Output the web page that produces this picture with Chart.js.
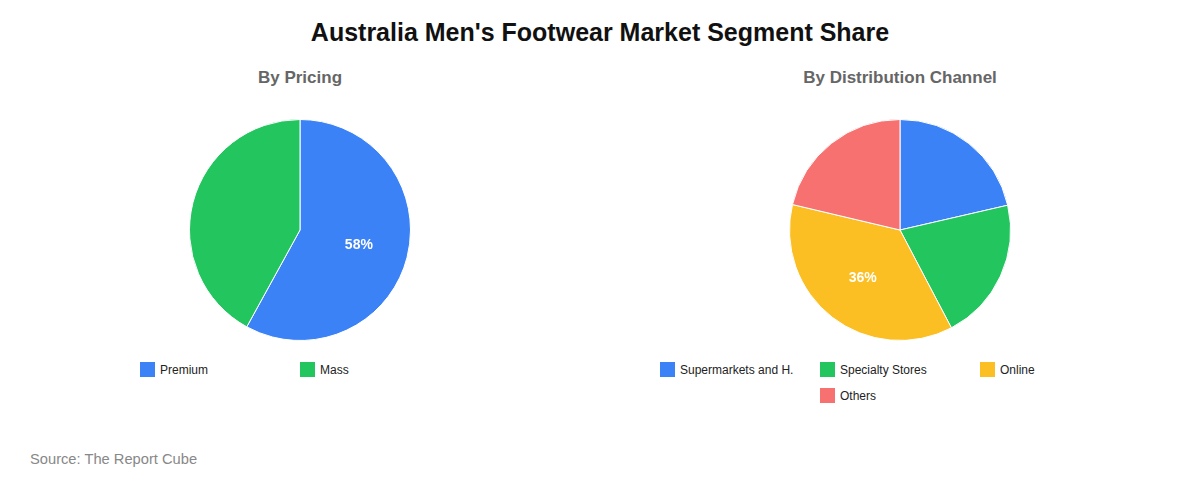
<!DOCTYPE html>
<html>
<head>
<meta charset="utf-8">
<script src="https://cdn.jsdelivr.net/npm/chart.js@4.4.0/dist/chart.umd.min.js"></script>
<style>
  html, body { margin: 0; padding: 0; background: #fff; }
  body { width: 1200px; height: 480px; position: relative; overflow: hidden; font-family: "Liberation Sans", Arial, sans-serif; }
  .main-title { position: absolute; top: 18px; left: 0; width: 1200px; text-align: center; font-size: 25px; font-weight: bold; color: #111; }
  .block { position: absolute; top: 0; width: 600px; height: 440px; }
  .sub-title { position: absolute; top: 68px; left: 0; width: 600px; text-align: center; font-size: 17px; font-weight: bold; color: #666; }
  .pie-wrap { position: absolute; top: 119px; left: 189px; width: 222px; height: 222px; }
  .legend { position: absolute; top: 362px; display: flex; flex-wrap: wrap; justify-content: center; }
  .legend-item { width: 160px; height: 26px; display: flex; align-items: flex-start; font-size: 12px; color: #222; }
  .legend-box { width: 15px; height: 15px; margin-right: 5px; flex: none; }
  .legend-item span { line-height: 16px; white-space: nowrap; }
  .source { position: absolute; left: 30px; top: 451px; font-size: 14.7px; color: #888; }
</style>
</head>
<body>
<div class="main-title">Australia Men's Footwear Market Segment Share</div>

<div class="block" style="left:0">
  <div class="sub-title">By Pricing</div>
  <div class="pie-wrap"><canvas id="pricing-chart"></canvas></div>
  <div class="legend" id="pricing-legend"></div>
</div>

<div class="block" style="left:600px">
  <div class="sub-title">By Distribution Channel</div>
  <div class="pie-wrap"><canvas id="channel-chart"></canvas></div>
  <div class="legend" id="channel-legend"></div>
</div>

<div class="source">Source: The Report Cube</div>

<script>
// Pricing split
const pricingLabels = ['Premium', 'Mass'];
const pricingValues = [58, 42];
const pricingColors = ['#3b82f6', '#22c55e'];

// Distribution channel split
const channelLabels = ['Supermarkets and Hypermarkets', 'Specialty Stores', 'Online', 'Others'];
const channelValues = [21.4, 20.9, 36.4, 21.3];
const channelColors = ['#3b82f6', '#22c55e', '#fbbf24', '#f87171'];

// draws the % label on the biggest slice only
const maxSliceLabel = {
  id: 'maxSliceLabel',
  afterDatasetsDraw(chart) {
    const ctx = chart.ctx;
    const data = chart.data.datasets[0].data;
    const total = data.reduce((a, b) => a + b, 0);
    const idx = data.indexOf(Math.max(...data));
    const arc = chart.getDatasetMeta(0).data[idx];
    const mid = (arc.startAngle + arc.endAngle) / 2;
    const r = arc.outerRadius * 0.55;
    const x = arc.x + Math.cos(mid) * r;
    const y = arc.y + Math.sin(mid) * r;
    ctx.save();
    ctx.fillStyle = '#fff';
    ctx.font = 'bold 14px "Liberation Sans", Arial, sans-serif';
    ctx.textAlign = 'center';
    ctx.textBaseline = 'middle';
    ctx.fillText(Math.round(data[idx] / total * 100) + '%', x, y);
    ctx.restore();
  }
};

function shortLabel(label) {
  return label.length > 18 ? label.slice(0, 18) + '.' : label;
}

function buildLegend(id, labels, colors) {
  const el = document.getElementById(id);
  const cols = Math.min(labels.length, 3);
  el.style.width = (cols * 160) + 'px';
  el.style.left = ((600 - cols * 160) / 2) + 'px';
  el.innerHTML = labels.map((l, i) => `
    <div class="legend-item">
      <div class="legend-box" style="background:${colors[i]}"></div>
      <span>${shortLabel(l)}</span>
    </div>`).join('');
}

function makePie(canvasId, labels, values, colors) {
  new Chart(document.getElementById(canvasId), {
    type: 'pie',
    data: {
      labels: labels,
      datasets: [{
        data: values,
        backgroundColor: colors,
        borderColor: '#fff',
        borderWidth: 1
      }]
    },
    options: {
      responsive: true,
      maintainAspectRatio: false,
      animation: false,
      layout: { padding: 0 },
      plugins: {
        legend: { display: false },
        tooltip: { enabled: false }
      }
    },
    plugins: [maxSliceLabel]
  });
}

makePie('pricing-chart', pricingLabels, pricingValues, pricingColors);
makePie('channel-chart', channelLabels, channelValues, channelColors);
buildLegend('pricing-legend', pricingLabels, pricingColors);
buildLegend('channel-legend', channelLabels, channelColors);
</script>
</body>
</html>
